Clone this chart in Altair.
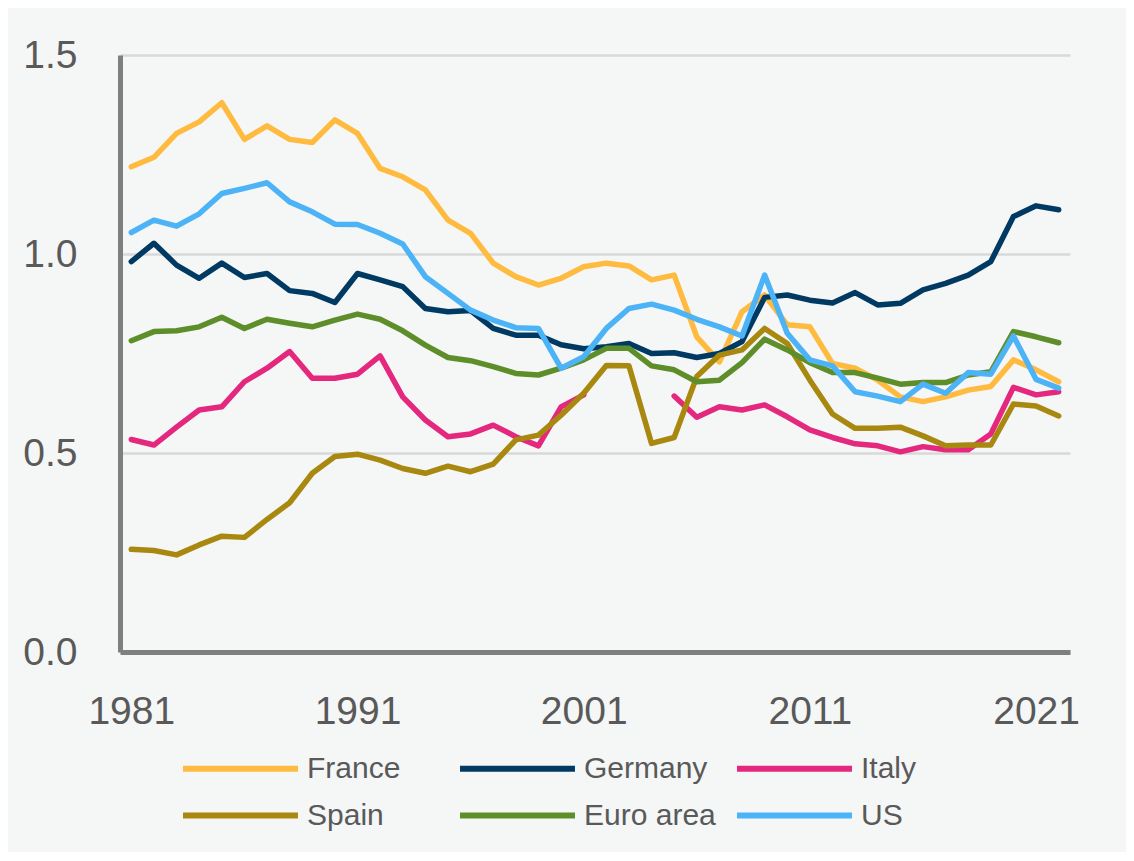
import altair as alt
import pandas as pd

years = list(range(1981, 2023))

france = [1.219, 1.243, 1.303, 1.332, 1.380, 1.288, 1.322, 1.288, 1.280, 1.337,
          1.303, 1.215, 1.194, 1.161, 1.085, 1.052, 0.977, 0.943, 0.922, 0.939,
          0.968, 0.977, 0.970, 0.935, 0.947, 0.792, 0.729, 0.855, 0.897, 0.822,
          0.817, 0.725, 0.713, 0.683, 0.641, 0.629, 0.641, 0.658, 0.667, 0.734,
          0.709, 0.679]
germany = [0.981, 1.027, 0.972, 0.939, 0.977, 0.941, 0.951, 0.908, 0.901, 0.878,
           0.951, 0.935, 0.918, 0.863, 0.855, 0.858, 0.813, 0.796, 0.796, 0.772,
           0.762, 0.767, 0.775, 0.750, 0.752, 0.740, 0.750, 0.780, 0.891, 0.897,
           0.884, 0.877, 0.903, 0.872, 0.876, 0.910, 0.926, 0.947, 0.981, 1.094,
           1.121, 1.111]
italy = [0.534, 0.520, 0.565, 0.608, 0.616, 0.679, 0.713, 0.755, 0.688, 0.688,
         0.698, 0.744, 0.641, 0.583, 0.541, 0.548, 0.570, 0.541, 0.518, 0.616,
         0.646, None, None, None, 0.643, 0.590, 0.616, 0.608, 0.621, 0.591,
         0.558, 0.539, 0.523, 0.518, 0.503, 0.516, 0.508, 0.508, 0.548, 0.665,
         0.646, 0.654]
spain = [0.258, 0.255, 0.244, 0.269, 0.291, 0.288, 0.333, 0.375, 0.449, 0.491,
         0.497, 0.482, 0.461, 0.449, 0.467, 0.453, 0.472, 0.533, 0.545, 0.595,
         0.650, 0.720, 0.719, 0.524, 0.539, 0.692, 0.746, 0.759, 0.813, 0.775,
         0.683, 0.598, 0.562, 0.562, 0.565, 0.543, 0.518, 0.520, 0.520, 0.623,
         0.618, 0.593]
euro_area = [0.782, 0.805, 0.807, 0.817, 0.841, 0.813, 0.836, 0.826, 0.817, 0.834,
             0.849, 0.836, 0.807, 0.771, 0.740, 0.732, 0.717, 0.700, 0.696, 0.713,
             0.734, 0.763, 0.763, 0.719, 0.709, 0.679, 0.683, 0.727, 0.786, 0.759,
             0.727, 0.702, 0.702, 0.688, 0.673, 0.677, 0.677, 0.696, 0.704, 0.805,
             0.792, 0.777]
us = [1.054, 1.085, 1.070, 1.101, 1.152, 1.165, 1.179, 1.131, 1.106, 1.075,
      1.074, 1.052, 1.025, 0.943, 0.901, 0.859, 0.834, 0.815, 0.813, 0.713,
      0.742, 0.813, 0.863, 0.874, 0.859, 0.836, 0.817, 0.794, 0.947, 0.801,
      0.734, 0.719, 0.654, 0.643, 0.629, 0.673, 0.650, 0.702, 0.698, 0.794,
      0.685, 0.663]

series_names = ["France", "Germany", "Italy", "Spain", "Euro area", "US"]
series_values = [france, germany, italy, spain, euro_area, us]
series_colors = ["#FFBB40", "#003A63", "#E3287E", "#A8880F", "#5E8E2A", "#4DB3F7"]
x_tick_values = [1981, 1991, 2001, 2011, 2021]
y_tick_values = [0.0, 0.5, 1.0, 1.5]

rows = []
for name, vals in zip(series_names, series_values):
    seg = 0
    prev_none = False
    for yr, v in zip(years, vals):
        if v is None:
            prev_none = True
            continue
        if prev_none:
            seg += 1
            prev_none = False
        rows.append({"country": name, "year": yr, "value": v, "seg": f"{name}-{seg}"})
df = pd.DataFrame(rows)

FONT = "Liberation Sans, Arial, sans-serif"
TXT = "#595959"

chart = alt.Chart(df).mark_line(
    strokeWidth=5.5, strokeJoin="round", strokeCap="round"
).encode(
    x=alt.X("year:Q",
            scale=alt.Scale(domain=[1980.5, 2022.5], nice=False, zero=False),
            axis=alt.Axis(values=x_tick_values, format="d", title=None, grid=False,
                          ticks=False, domainColor="#7f7f7f", domainWidth=5,
                          labelFontSize=39, labelColor=TXT, labelFont=FONT,
                          labelPadding=40, labelFlush=False)),
    y=alt.Y("value:Q",
            scale=alt.Scale(domain=[0, 1.5], nice=False),
            axis=alt.Axis(values=y_tick_values, format=".1f", title=None,
                          gridColor="#d9d9d9", gridWidth=2.5, ticks=False,
                          domainColor="#7f7f7f", domainWidth=5,
                          labelFontSize=39, labelColor=TXT, labelFont=FONT,
                          labelPadding=43)),
    color=alt.Color("country:N",
                    scale=alt.Scale(domain=series_names, range=series_colors),
                    legend=alt.Legend(title=None, orient="none", legendX=103, legendY=696,
                                      direction="horizontal",
                                      columns=3, symbolType="M-4,0H4", symbolSize=826,
                                      symbolStrokeWidth=6, labelFontSize=30,
                                      labelFont=FONT, labelColor=TXT, labelOffset=49,
                                      columnPadding=9, rowPadding=14, gridAlign="all",
                                      labelLimit=300)),
    detail="seg:N",
).properties(
    width=950, height=597,
    background="#f5f6f6",
    padding={"left": 112, "top": 47, "right": 56, "bottom": 200},
    autosize=alt.AutoSizeParams(type="none"),
).configure_view(stroke=None)

chart.save("out.html", embed_options={"renderer": "svg", "actions": False})
